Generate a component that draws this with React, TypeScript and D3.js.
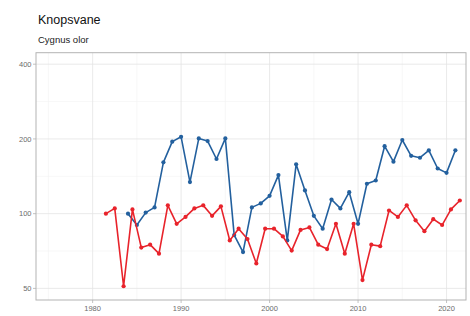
import React from "react";
import * as d3 from "d3";

const title = "Knopsvane";
const subtitle = "Cygnus olor";

const blueYears = [1984, 1985, 1986, 1987, 1988, 1989, 1990, 1991, 1992, 1993, 1994, 1995, 1996, 1997, 1998, 1999, 2000, 2001, 2002, 2003, 2004, 2005, 2006, 2007, 2008, 2009, 2010, 2011, 2012, 2013, 2014, 2015, 2016, 2017, 2018, 2019, 2020, 2021];
const blueValues = [100, 90, 101, 106, 161, 195, 204, 134, 201, 196, 166, 201, 82, 70, 106, 110, 118, 143, 78, 158, 124, 98, 87, 114, 105, 122, 91, 132, 136, 187, 162, 198, 171, 168, 180, 152, 146, 180];

const redYears = [1981.5, 1982.5, 1983.5, 1984.5, 1985.5, 1986.5, 1987.5, 1988.5, 1989.5, 1990.5, 1991.5, 1992.5, 1993.5, 1994.5, 1995.5, 1996.5, 1997.5, 1998.5, 1999.5, 2000.5, 2001.5, 2002.5, 2003.5, 2004.5, 2005.5, 2006.5, 2007.5, 2008.5, 2009.5, 2010.5, 2011.5, 2012.5, 2013.5, 2014.5, 2015.5, 2016.5, 2017.5, 2018.5, 2019.5, 2020.5, 2021.5];
const redValues = [100, 105, 51, 104, 73, 75, 69, 108, 91, 97, 105, 108, 98, 107, 78, 87, 79, 63, 87, 87, 81, 71, 86, 88, 75, 72, 91, 69, 91, 54, 75, 74, 103, 97, 108, 94, 85, 95, 90, 104, 113];

const xTicks = [1980, 1990, 2000, 2010, 2020];
const xMinor = [1975, 1985, 1995, 2005, 2015];
const yTicks = [50, 100, 200, 400];

const W = 470;
const H = 316;
const panel = { left: 36, right: 466, top: 52.7, bottom: 300 };

export default function App() {
  const x = d3.scaleLinear().domain([1973.6, 2022.2]).range([panel.left, panel.right]);
  const y = d3.scaleLog().domain([44.9, 445]).range([panel.bottom, panel.top]);

  const yMinor = yTicks.slice(0, -1).map((v, i) => Math.sqrt(v * yTicks[i + 1]));

  const series = [
    { years: blueYears, values: blueValues, color: "#23609e" },
    { years: redYears, values: redValues, color: "#e8232b" },
  ];

  const line = d3
    .line<[number, number]>()
    .x((d) => x(d[0]))
    .y((d) => y(d[1]));

  const font = "Liberation Sans, Arial, sans-serif";

  return (
    <svg
      width={W}
      height={H}
      style={{ position: "absolute", left: 0, top: 0, background: "#fff" }}
      fontFamily={font}
    >
      <rect x={0} y={0} width={W} height={H} fill="#fff" />
      <text x={38} y={24} fontSize={12.5} fill="#111">{title}</text>
      <text x={38} y={42.5} fontSize={9.5} fill="#222">{subtitle}</text>

      {/* minor grid */}
      {xMinor.map((t) => (
        <line key={"xm" + t} x1={x(t)} x2={x(t)} y1={panel.top} y2={panel.bottom} stroke="#f1f1f1" strokeWidth={0.6} />
      ))}
      {yMinor.map((t) => (
        <line key={"ym" + t} x1={panel.left} x2={panel.right} y1={y(t)} y2={y(t)} stroke="#f1f1f1" strokeWidth={0.6} />
      ))}
      {/* major grid */}
      {xTicks.map((t) => (
        <line key={"xg" + t} x1={x(t)} x2={x(t)} y1={panel.top} y2={panel.bottom} stroke="#e4e4e4" strokeWidth={0.8} />
      ))}
      {yTicks.map((t) => (
        <line key={"yg" + t} x1={panel.left} x2={panel.right} y1={y(t)} y2={y(t)} stroke="#e4e4e4" strokeWidth={0.8} />
      ))}

      {/* series */}
      {series.map((s, si) => {
        const pts = s.years.map((yr, i) => [yr, s.values[i]] as [number, number]);
        return (
          <g key={si}>
            <path d={line(pts) || ""} fill="none" stroke={s.color} strokeWidth={1.6} strokeLinejoin="round" />
            {pts.map((p, i) => (
              <circle key={i} cx={x(p[0])} cy={y(p[1])} r={2.1} fill={s.color} />
            ))}
          </g>
        );
      })}

      {/* panel border */}
      <rect
        x={panel.left}
        y={panel.top}
        width={panel.right - panel.left}
        height={panel.bottom - panel.top}
        fill="none"
        stroke="#b3b3b3"
        strokeWidth={1}
      />

      {/* y axis ticks */}
      {yTicks.map((t) => (
        <g key={"yt" + t}>
          <line x1={panel.left - 3} x2={panel.left} y1={y(t)} y2={y(t)} stroke="#b3b3b3" strokeWidth={0.8} />
          <text x={panel.left - 4.5} y={y(t)} dy="0.35em" textAnchor="end" fontSize={7.5} fill="#6b6b6b">
            {t}
          </text>
        </g>
      ))}
      {/* x axis ticks */}
      {xTicks.map((t) => (
        <g key={"xt" + t}>
          <line x1={x(t)} x2={x(t)} y1={panel.bottom} y2={panel.bottom + 3} stroke="#b3b3b3" strokeWidth={0.8} />
          <text x={x(t)} y={panel.bottom + 11} textAnchor="middle" fontSize={7.5} fill="#6b6b6b">
            {t}
          </text>
        </g>
      ))}
    </svg>
  );
}
